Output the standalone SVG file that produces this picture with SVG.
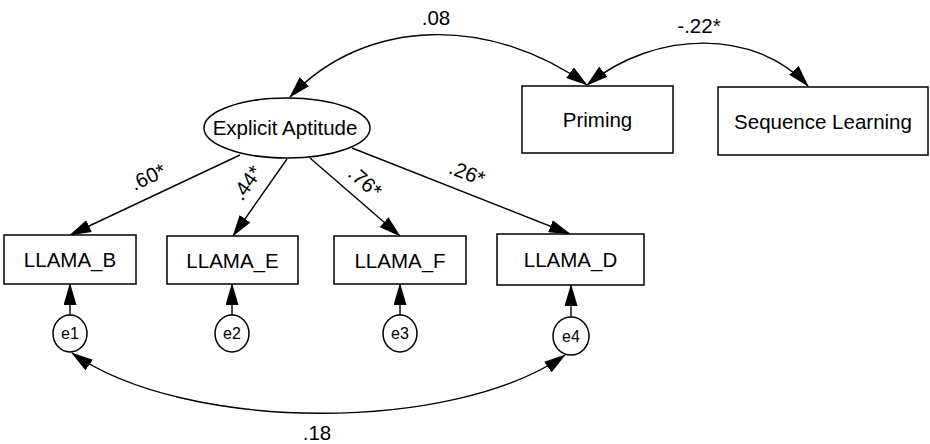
<svg xmlns="http://www.w3.org/2000/svg" width="930" height="444" viewBox="0 0 930 444">
  <style>
    .box { fill: #fff; stroke: #000; stroke-width: 1.5; }
    .lbl { font-family: "Liberation Sans", Arial, sans-serif; font-size: 20.5px; fill: #000; text-anchor: middle; }
    .err { font-family: "Liberation Sans", Arial, sans-serif; font-size: 16px; fill: #000; text-anchor: middle; }
    .edge { fill: none; stroke: #000; stroke-width: 1.4; }
    .one { marker-end: url(#head); }
    .two { marker-start: url(#head); marker-end: url(#head); }
  </style>
  <defs>
    <marker id="head" markerUnits="userSpaceOnUse" markerWidth="22" markerHeight="13" refX="21" refY="6.5" orient="auto-start-reverse">
      <path d="M0,0 L22,6.5 L0,13 Z" fill="#000"/>
    </marker>
  </defs>
  <rect width="930" height="444" fill="#fff"/>

  <g id="connectors">
    <!-- covariances -->
    <path class="edge two" d="M290,97 C366,16 492,16 587,85"/>
    <path class="edge two" d="M587,85 C656,29 756,29 808,86"/>
    <path class="edge two" d="M72,353 C186,433 454,433 565,355"/>
    <!-- factor loadings -->
    <path class="edge one" d="M240,155 L70,235"/>
    <path class="edge one" d="M287,159 L233,236"/>
    <path class="edge one" d="M310,158 L400,236"/>
    <path class="edge one" d="M352,148 L570,234"/>
    <!-- error terms -->
    <path class="edge one" d="M70,315 L70,284"/>
    <path class="edge one" d="M232,315 L232,284"/>
    <path class="edge one" d="M400,315 L400,284"/>
    <path class="edge one" d="M571,317 L571,285"/>
    <!-- labels -->
    <text class="lbl" x="436" y="25">.08</text>
    <text class="lbl" x="699" y="33">-.22*</text>
    <text class="lbl" x="317" y="440">.18</text>
    <text class="lbl" transform="translate(148,177) rotate(-25)" y="7">.60*</text>
    <text class="lbl" transform="translate(247,183) rotate(-55)" y="7">.44*</text>
    <text class="lbl" transform="translate(365,182) rotate(41)" y="7">.76*</text>
    <text class="lbl" transform="translate(467,173) rotate(21.5)" y="7">.26*</text>
  </g>

  <g id="explicit-aptitude">
    <ellipse class="box" cx="287" cy="128" rx="83" ry="30"/>
    <text class="lbl" x="285" y="135">Explicit Aptitude</text>
  </g>
  <g id="priming">
    <rect class="box" x="522" y="86" width="151" height="67"/>
    <text class="lbl" x="597.5" y="127">Priming</text>
  </g>
  <g id="sequence-learning">
    <rect class="box" x="718" y="87" width="210" height="68"/>
    <text class="lbl" x="823" y="128.5">Sequence Learning</text>
  </g>
  <g id="llama-b">
    <rect class="box" x="4" y="235" width="132" height="49"/>
    <text class="lbl" x="70" y="267">LLAMA_B</text>
  </g>
  <g id="llama-e">
    <rect class="box" x="167" y="236" width="131" height="48"/>
    <text class="lbl" x="232.5" y="267.5">LLAMA_E</text>
  </g>
  <g id="llama-f">
    <rect class="box" x="334" y="236" width="132" height="48"/>
    <text class="lbl" x="400" y="267.5">LLAMA_F</text>
  </g>
  <g id="llama-d">
    <rect class="box" x="497" y="234" width="147" height="51"/>
    <text class="lbl" x="570.5" y="267">LLAMA_D</text>
  </g>
  <g id="e1">
    <ellipse class="box" cx="70" cy="333.5" rx="17" ry="18.5"/>
    <text class="err" x="70" y="339">e1</text>
  </g>
  <g id="e2">
    <ellipse class="box" cx="232" cy="333.5" rx="17" ry="18.5"/>
    <text class="err" x="232" y="339">e2</text>
  </g>
  <g id="e3">
    <ellipse class="box" cx="400" cy="333.5" rx="17" ry="18.5"/>
    <text class="err" x="400" y="339">e3</text>
  </g>
  <g id="e4">
    <ellipse class="box" cx="571" cy="336" rx="18" ry="19"/>
    <text class="err" x="571" y="341.5">e4</text>
  </g>
</svg>
